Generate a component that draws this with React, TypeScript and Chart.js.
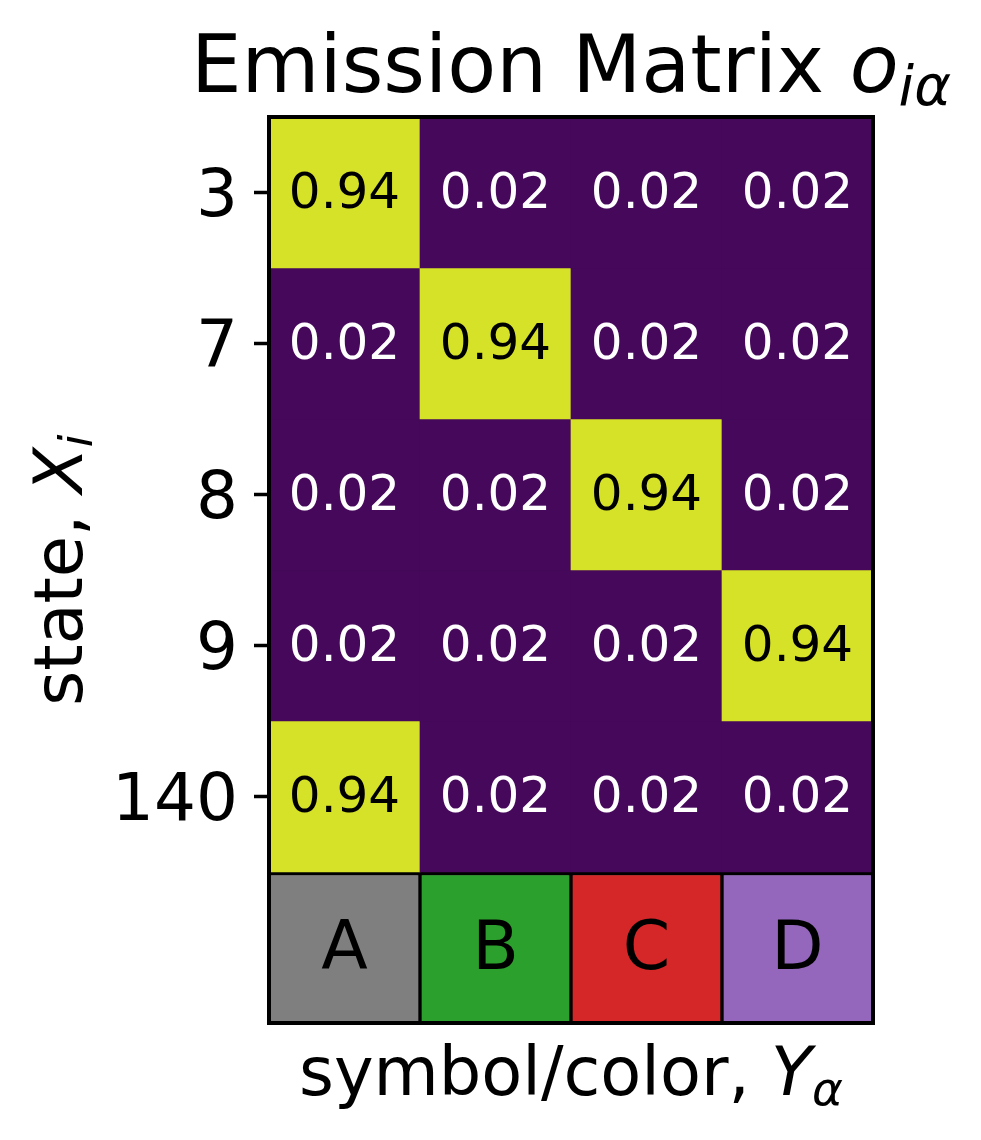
import React, { useEffect, useRef } from 'react';
import { Chart, registerables } from 'chart.js';
Chart.register(...registerables);

const symbols = ['A', 'B', 'C', 'D'];
const states = ['3', '7', '8', '9', '140'];
const row3 = [0.94, 0.02, 0.02, 0.02];
const row7 = [0.02, 0.94, 0.02, 0.02];
const row8 = [0.02, 0.02, 0.94, 0.02];
const row9 = [0.02, 0.02, 0.02, 0.94];
const row140 = [0.94, 0.02, 0.02, 0.02];
const emission = [row3, row7, row8, row9, row140];
const symbolColors = ['#7f7f7f', '#2ca02c', '#d62728', '#9467bd'];

const VIRIDIS = ['#440154', '#482878', '#3e4a89', '#31688e', '#26828e', '#1f9e89', '#35b779', '#6ece58', '#b5de2b', '#fde725'];
function hexToRgb(h: string) {
  return [parseInt(h.slice(1, 3), 16), parseInt(h.slice(3, 5), 16), parseInt(h.slice(5, 7), 16)];
}
function viridis(v: number) {
  const t = Math.max(0, Math.min(1, v)) * (VIRIDIS.length - 1);
  const i = Math.min(VIRIDIS.length - 2, Math.floor(t));
  const f = t - i;
  const a = hexToRgb(VIRIDIS[i]);
  const b = hexToRgb(VIRIDIS[i + 1]);
  const c = a.map((x, k) => Math.round(x + (b[k] - x) * f));
  return `rgb(${c[0]},${c[1]},${c[2]})`;
}

const FONT = "'DejaVu Sans', sans-serif";

type Run = { text: string; font: string; dy?: number };
function drawRuns(ctx: CanvasRenderingContext2D, runs: Run[], cx: number, y: number) {
  let total = 0;
  const widths = runs.map((r) => {
    ctx.font = r.font;
    const w = ctx.measureText(r.text).width;
    total += w;
    return w;
  });
  let x = cx - total / 2;
  ctx.textAlign = 'left';
  ctx.textBaseline = 'alphabetic';
  runs.forEach((r, i) => {
    ctx.font = r.font;
    ctx.fillText(r.text, x, y + (r.dy || 0));
    x += widths[i];
  });
}

const decorPlugin = {
  id: 'decor',
  afterDatasetsDraw(chart: any) {
    const ctx = chart.ctx as CanvasRenderingContext2D;
    const area = chart.chartArea;
    ctx.save();
    chart.data.datasets.forEach((ds: any, r: number) => {
      const meta = chart.getDatasetMeta(r);
      meta.data.forEach((el: any, c: number) => {
        const cy = (el.y + el.base) / 2;
        ctx.textAlign = 'center';
        ctx.textBaseline = 'alphabetic';
        if (r < emission.length) {
          const v = emission[r][c];
          ctx.font = `50px ${FONT}`;
          ctx.fillStyle = v > 0.5 ? '#000000' : '#ffffff';
          ctx.fillText(v.toFixed(2), el.x, cy + 15.5);
        } else {
          ctx.font = `68px ${FONT}`;
          ctx.fillStyle = '#000000';
          ctx.fillText(symbols[c], el.x, cy + 21);
        }
      });
    });
    ctx.strokeStyle = '#000000';
    ctx.lineWidth = 4;
    ctx.strokeRect(area.left, area.top, area.right - area.left, area.bottom - area.top);
    ctx.restore();
  },
  afterDraw(chart: any) {
    const ctx = chart.ctx as CanvasRenderingContext2D;
    const area = chart.chartArea;
    const cx = (area.left + area.right) / 2;
    ctx.save();
    ctx.fillStyle = '#000000';
    drawRuns(ctx, [
      { text: 'Emission Matrix ', font: `80px ${FONT}` },
      { text: 'o', font: `italic 80px ${FONT}` },
      { text: 'iα', font: `italic 56px ${FONT}`, dy: 13 },
    ], cx, 92);
    drawRuns(ctx, [
      { text: 'symbol/color, ', font: `67px ${FONT}` },
      { text: 'Y', font: `italic 67px ${FONT}` },
      { text: 'α', font: `italic 47px ${FONT}`, dy: 10 },
    ], cx, 1095);
    ctx.translate(82, (area.top + area.bottom) / 2);
    ctx.rotate(-Math.PI / 2);
    drawRuns(ctx, [
      { text: 'state, ', font: `67px ${FONT}` },
      { text: 'X', font: `italic 67px ${FONT}` },
      { text: 'i', font: `italic 47px ${FONT}`, dy: 10 },
    ], 0, 0);
    ctx.restore();
  },
};

export default function App() {
  const ref = useRef<HTMLCanvasElement | null>(null);
  useEffect(() => {
    if (!ref.current) return;
    const datasets: any[] = emission.map((row, r) => ({
      label: states[r],
      data: row.map(() => [r, r + 1]),
      backgroundColor: row.map((v) => viridis(v)),
      borderWidth: 0,
      barPercentage: 1,
      categoryPercentage: 1,
      grouped: false,
    }));
    datasets.push({
      label: 'symbols',
      data: symbols.map(() => [emission.length, emission.length + 1]),
      backgroundColor: symbolColors,
      borderColor: '#000000',
      borderWidth: { top: 3.5, bottom: 2, left: 2, right: 2 },
      borderSkipped: false,
      barPercentage: 1,
      categoryPercentage: 1,
      grouped: false,
    });
    const chart = new Chart(ref.current, {
      type: 'bar',
      data: { labels: symbols, datasets },
      options: {
        animation: false,
        responsive: true,
        maintainAspectRatio: false,
        layout: { padding: { left: 0, top: 117, right: 108, bottom: 0 } },
        plugins: { legend: { display: false }, tooltip: { enabled: false }, title: { display: false } },
        scales: {
          x: {
            type: 'category',
            position: 'bottom',
            ticks: { display: false },
            grid: { display: false },
            border: { display: false },
            afterFit: (s: any) => { s.height = 117; },
          },
          y: {
            type: 'linear',
            min: 0,
            max: states.length + 1,
            reverse: true,
            afterBuildTicks: (s: any) => { s.ticks = states.map((_, i) => ({ value: i + 0.5 })); },
            ticks: {
              autoSkip: false,
              padding: 16,
              labelOffset: 6,
              color: '#000000',
              font: { family: FONT, size: 66 },
              callback: (v: any) => states[Math.floor(Number(v))],
            },
            grid: { display: true, drawOnChartArea: false, drawTicks: true, tickLength: 15, tickWidth: 3.5, tickColor: '#000000' },
            border: { display: false },
            afterFit: (s: any) => { s.width = 269; },
          },
        },
      },
      plugins: [decorPlugin],
    } as any);
    return () => chart.destroy();
  }, []);
  return (
    <div style={{ position: 'absolute', left: 0, top: 0, width: 981, height: 1140, background: '#ffffff' }}>
      <canvas ref={ref} />
    </div>
  );
}
